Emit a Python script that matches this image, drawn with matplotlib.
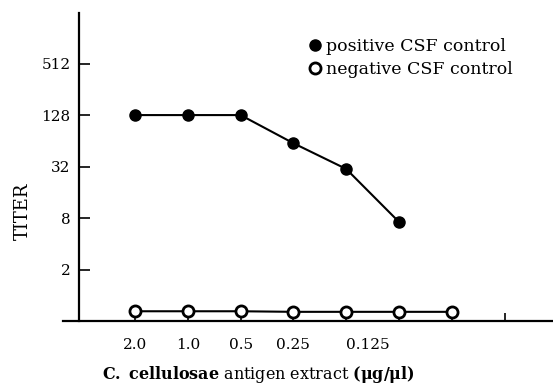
import numpy as np
import matplotlib
matplotlib.use("Agg")
import matplotlib.pyplot as plt
from matplotlib.lines import Line2D

# values (titer, log2 scale)
positive = [128, 128, 128, 60, 30, 7.2]
negative = [0.65, 0.65, 0.65, 0.64, 0.64, 0.64, 0.64]
xlabels = ["2.0", "1.0", "0.5", "0.25", "0.125"]
xlabel_pos = [0, 1, 2, 3, 4.4]
yticks = [2, 8, 32, 128, 512]

plt.rcParams['font.family'] = ['DejaVu Serif']
plt.rcParams['mathtext.fontset'] = 'dejavuserif'

fig = plt.figure(figsize=(5.53, 3.84), dpi=100)
ax = fig.add_axes([63/553, 1 - 321/384, 490/553, 308/384])

ax.plot(np.arange(len(positive)), positive, color='black', lw=1.5,
        marker='o', ms=8, mfc='black', mec='black')
ax.plot(np.arange(len(negative)), negative, color='black', lw=1.5,
        marker='o', ms=8, mfc='white', mec='black', mew=2)

ax.set_yscale('log', base=2)
ax.set_ylim(0.5, 2000)
ax.set_xlim(-1.364, 7.917)

ax.spines['top'].set_visible(False)
ax.spines['right'].set_visible(False)
ax.spines['left'].set_position(('data', -1.06))
ax.spines['left'].set_linewidth(1.6)
ax.spines['bottom'].set_linewidth(1.6)

ax.set_yticks(yticks)
ax.set_yticklabels([str(v) for v in yticks], fontsize=11)
ax.yaxis.set_minor_locator(matplotlib.ticker.NullLocator())
ax.tick_params(axis='y', direction='in', length=8, width=1.2, pad=6)

ax.xaxis.remove_overlapping_locs = False
ax.set_xticks(np.arange(8))
ax.set_xticklabels([])
ax.tick_params(axis='x', which='major', direction='in', length=6, width=1.2)
ax.set_xticks(xlabel_pos, minor=True)
ax.set_xticklabels(xlabels, minor=True, fontsize=11)
ax.tick_params(axis='x', which='minor', length=0, pad=12)

ax.set_ylabel("TITER", fontsize=13)
ax.yaxis.set_label_coords(-0.063, 0.357)
ax.set_xlabel(r"$\mathbf{C.\ cellulosae}$ antigen extract $\mathbf{(\mu g/\mu l)}$",
              fontsize=11.5)
ax.xaxis.set_label_coords(0.398, -0.14)

handles = [Line2D([], [], ls='none', marker='o', ms=8, mfc='black', mec='black'),
           Line2D([], [], ls='none', marker='o', ms=8, mfc='white', mec='black', mew=2)]
ax.legend(handles, ["positive CSF control", "negative CSF control"],
          loc='upper left', bbox_to_anchor=(0.49, 0.94), frameon=False,
          fontsize=12.5, handlelength=0.6, handletextpad=0.3, labelspacing=0.3,
          borderaxespad=0)

fig.savefig("out.png", dpi=100)
